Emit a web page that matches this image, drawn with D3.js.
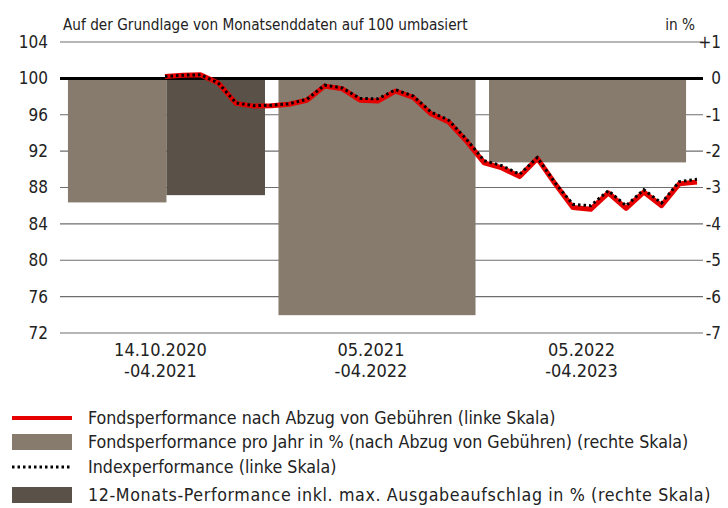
<!DOCTYPE html>
<html>
<head>
<meta charset="utf-8">
<script src="https://cdn.jsdelivr.net/npm/d3@7"></script>
<style>
  body { margin: 0; background: #fff; }
  svg text { font-family: "Liberation Sans Narrow", "DejaVu Sans Condensed", "Open Sans", sans-serif; fill: #222; }
</style>
</head>
<body>
<svg id="chart" width="728" height="508"></svg>
<script>
// periods for the bars
var periods = ['14.10.2020|-04.2021', '05.2021|-04.2022', '05.2022|-04.2023'];
var fundYear = [-3.41, -6.51, -2.31];      // Fondsperformance pro Jahr in %
var maxFeeYear = [-3.21, null, null];      // 12-Monats-Performance inkl. max. Ausgabeaufschlag

// monthly line data (rebased to 100)
var months = ['10.2020', '11.2020', '12.2020', '01.2021', '02.2021', '03.2021', '04.2021',
  '05.2021', '06.2021', '07.2021', '08.2021', '09.2021', '10.2021', '11.2021', '12.2021',
  '01.2022', '02.2022', '03.2022', '04.2022', '05.2022', '06.2022', '07.2022', '08.2022',
  '09.2022', '10.2022', '11.2022', '12.2022', '01.2023', '02.2023', '03.2023', '04.2023'];
var fundLine = [100.2, 100.35, 100.4, 99.5, 97.25, 96.95, 97.0, 97.15, 97.6, 99.15, 98.85,
  97.6, 97.5, 98.6, 97.9, 96.1, 95.2, 93.1, 90.7, 90.15, 89.2, 91.2, 88.4, 85.8, 85.6,
  87.4, 85.7, 87.5, 86.0, 88.4, 88.6];
var indexLine = [100.2, 100.35, 100.4, 99.5, 97.3, 97.0, 97.05, 97.2, 97.7, 99.25, 98.95,
  97.8, 97.75, 98.75, 98.05, 96.3, 95.4, 93.3, 90.95, 90.4, 89.45, 91.3, 88.5, 86.15, 86.0,
  87.65, 86.0, 87.75, 86.3, 88.65, 88.9];

var leftTicks = [72, 76, 80, 84, 88, 92, 96, 100, 104];
var rightTicks = [-7, -6, -5, -4, -3, -2, -1, 0, 1];

var legendItems = [
  {type: 'line', label: 'Fondsperformance nach Abzug von Gebühren (linke Skala)'},
  {type: 'fund', label: 'Fondsperformance pro Jahr in % (nach Abzug von Gebühren) (rechte Skala)'},
  {type: 'dots', label: 'Indexperformance (linke Skala)'},
  {type: 'fee', label: '12-Monats-Performance inkl. max. Ausgabeaufschlag in % (rechte Skala)'}
];

var colors = {red: '#e60000', fund: '#877b6e', fee: '#5a5148', grid: '#6e6e6e'};
// the last legend row is set a little wider in the original
var legendSpacing = {line: 0, fund: 0, dots: 0, fee: 0.62};

var svg = d3.select('#chart');
var plotLeft = 60, plotRight = 697, plotTop = 42, plotBottom = 333;

var yLeft = d3.scaleLinear().domain([72, 104]).range([plotBottom, plotTop]);
var yRight = d3.scaleLinear().domain([-7, 1]).range([plotBottom, plotTop]);
var xBand = d3.scaleBand().domain(periods).range([61, 693])
  .paddingInner(0.064).paddingOuter(0.033);
var xLine = d3.scalePoint().domain(months).range([165, 697]);

// title
svg.append('text').attr('x', 63).attr('y', 30).style('font-size', '15.2px')
  .text('Auf der Grundlage von Monatsenddaten auf 100 umbasiert');
svg.append('text').attr('x', 695).attr('y', 30).attr('text-anchor', 'end').style('font-size', '15.2px')
  .text('in %');

// gridlines
svg.append('g').selectAll('line')
  .data(leftTicks.filter(function(d) { return d !== 100; }))
  .join('line')
  .attr('x1', plotLeft).attr('x2', plotRight + 6)
  .attr('y1', function(d) { return yLeft(d); })
  .attr('y2', function(d) { return yLeft(d); })
  .attr('stroke', colors.grid).attr('stroke-width', 1.2);

// left axis labels
svg.append('g').selectAll('text')
  .data(leftTicks)
  .join('text')
  .attr('x', 48).attr('y', function(d) { return yLeft(d); })
  .attr('dy', '0.35em').attr('text-anchor', 'end')
  .style('font-size', '17px')
  .text(function(d) { return d; });

// right axis labels
svg.append('g').selectAll('text')
  .data(rightTicks)
  .join('text')
  .attr('x', 721).attr('y', function(d) { return yRight(d); })
  .attr('dy', '0.35em').attr('text-anchor', 'end')
  .style('font-size', '17px')
  .text(function(d) { return d > 0 ? '+' + d : d; });

// bars
var bars = svg.append('g');
periods.forEach(function(p, i) {
  var x0 = xBand(p), w = xBand.bandwidth();
  var hasFee = maxFeeYear[i] !== null;
  var wf = hasFee ? w / 2 : w;
  bars.append('rect')
    .attr('x', x0).attr('width', wf)
    .attr('y', yRight(0)).attr('height', yRight(fundYear[i]) - yRight(0))
    .attr('fill', colors.fund);
  if (hasFee) {
    bars.append('rect')
      .attr('x', x0 + wf).attr('width', wf)
      .attr('y', yRight(0)).attr('height', yRight(maxFeeYear[i]) - yRight(0))
      .attr('fill', colors.fee);
  }
});

// zero line
svg.append('line')
  .attr('x1', plotLeft).attr('x2', plotRight + 6)
  .attr('y1', yLeft(100)).attr('y2', yLeft(100))
  .attr('stroke', '#000').attr('stroke-width', 3);

// x labels
var xl = svg.append('g').selectAll('text')
  .data(periods)
  .join('text')
  .attr('text-anchor', 'middle')
  .style('font-size', '18px');
xl.each(function(d) {
  var parts = d.split('|');
  var cx = xBand(d) + xBand.bandwidth() / 2 - 6;
  d3.select(this).selectAll('tspan').data(parts).join('tspan')
    .attr('x', cx)
    .attr('y', function(s, j) { return 356 + j * 21; })
    .text(function(s) { return s; });
});

// lines
var lineGen = d3.line()
  .x(function(d, i) { return xLine(months[i]); })
  .y(function(d) { return yLeft(d); });

svg.append('path').datum(fundLine)
  .attr('d', lineGen).attr('fill', 'none')
  .attr('stroke', colors.red).attr('stroke-width', 5).attr('stroke-linejoin', 'round');

svg.append('path').datum(indexLine)
  .attr('d', lineGen).attr('fill', 'none')
  .attr('stroke', '#000').attr('stroke-width', 3).attr('stroke-dasharray', '2.5,3');

// legend
var rowY = [418, 442, 467, 495];
var lg = svg.append('g').selectAll('g')
  .data(legendItems)
  .join('g')
  .attr('transform', function(d, i) { return 'translate(0,' + rowY[i] + ')'; });

lg.each(function(d) {
  var g = d3.select(this);
  if (d.type === 'line') {
    g.append('line').attr('x1', 12).attr('x2', 72).attr('stroke', colors.red).attr('stroke-width', 4);
  } else if (d.type === 'dots') {
    g.append('line').attr('x1', 12).attr('x2', 72).attr('stroke', '#000')
      .attr('stroke-width', 3).attr('stroke-dasharray', '2.5,3');
  } else {
    g.append('rect').attr('x', 12).attr('y', -8).attr('width', 60).attr('height', 16)
      .attr('fill', d.type === 'fund' ? colors.fund : colors.fee);
  }
  g.append('text').attr('x', 88).attr('dy', '0.35em').style('font-size', '17.7px')
    .style('letter-spacing', legendSpacing[d.type] + 'px')
    .text(d.label);
});
</script>
</body>
</html>
